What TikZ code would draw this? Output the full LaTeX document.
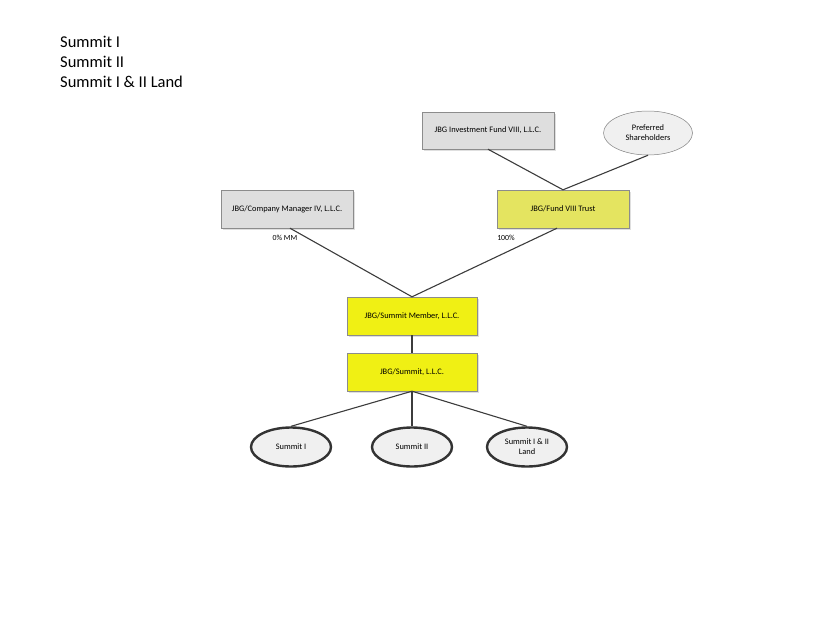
\documentclass[tikz,border=0pt]{standalone}
\usepackage{fontspec}
\setmainfont{Carlito}
\usetikzlibrary{shapes,positioning,shadows}

\definecolor{boxgray}{RGB}{222,222,222}
\definecolor{trustyellow}{RGB}{228,228,96}
\definecolor{llcyellow}{RGB}{240,240,20}
\definecolor{ovalgray}{RGB}{240,240,240}
\definecolor{linegray}{RGB}{60,60,60}

\begin{document}
\begin{tikzpicture}[
        x=1pt, y=-1pt,
        gray box/.style={draw=black!45, fill=boxgray, minimum width=132pt, minimum height=37pt, align=center, font=\fontsize{8.4}{10}\selectfont, drop shadow={opacity=0.25, shadow xshift=1.5pt, shadow yshift=-1.5pt}},
        trust box/.style={gray box, fill=trustyellow},
        llc box/.style={gray box, fill=llcyellow, minimum width=130pt, minimum height=38pt},
        oval/.style={ellipse, draw=black!80, line width=2.4pt, fill=ovalgray, minimum width=80pt, minimum height=39pt, inner sep=0pt, align=center, font=\fontsize{8.4}{10}\selectfont},
        thin oval/.style={oval, draw=black!50, line width=0.5pt, minimum width=89pt, minimum height=44pt},
        link/.style={draw=linegray, line width=1.1pt},
        pct/.style={font=\fontsize{7.8}{9}\selectfont, inner sep=1pt}
    ]
        \useasboundingbox (0,0) rectangle (825,635);

        % heading
        \node[anchor=north west, align=left, font=\fontsize{16.5}{20}\selectfont, inner sep=0pt] (head) at (60,36) {Summit I\\Summit II\\Summit I \& II Land};

        % owners
        \node[gray box] (fund) at (488,130.5) {JBG Investment Fund VIII, L.L.C.};
        \node[thin oval] (pref) at (648,133) {Preferred\\Shareholders};
        \node[trust box, minimum height=38pt] (trust) at (563,209) {JBG/Fund VIII Trust};
        \node[gray box, minimum height=38pt] (mgr) at (287,209) {JBG/Company Manager IV, L.L.C.};

        % entities
        \node[llc box] (member) at (412,316) {JBG/Summit Member, L.L.C.};
        \node[llc box] (summit) at (412,372) {JBG/Summit, L.L.C.};

        % properties
        \node[oval] (s1) at (291,447) {Summit I};
        \node[oval] (s2) at (412,447) {Summit II};
        \node[oval] (land) at (527,447) {Summit I \& II\\Land};

        \draw[link] (fund.south) -- (trust.north);
        \draw[link] (pref.south) -- (trust.north);
        \draw[link] ([xshift=3pt]mgr.south) -- (member.north);
        \draw[link] ([xshift=-6pt]trust.south) -- (member.north);
        \draw[link] (member) -- (summit);
        \draw[link] (summit.south) -- (s1.north);
        \draw[link] (summit.south) -- (s2.north);
        \draw[link] (summit.south) -- (land.north);

        \node[pct] (mm) at (285,238) {0\% MM};
        \node[pct] (full) at (506,238) {100\%};
\end{tikzpicture}
\end{document}
